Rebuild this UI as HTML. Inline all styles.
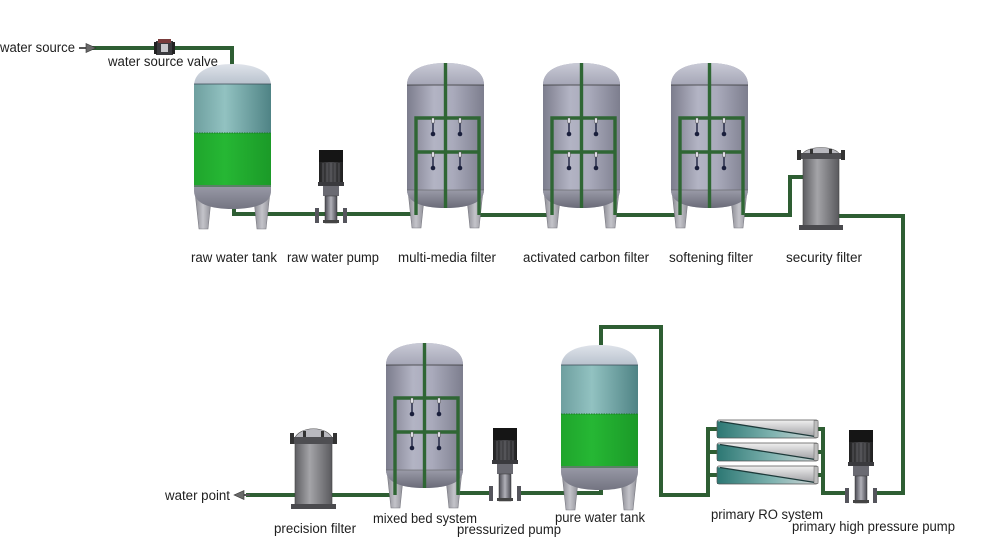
<!DOCTYPE html>
<html><head><meta charset="utf-8"><style>
html,body{margin:0;padding:0;background:#fff;}
svg{display:block;}
text{font-family:"Liberation Sans",Arial,sans-serif;font-size:13.5px;fill:#1e1e1e;}
</style></head><body>
<svg width="983" height="537" viewBox="0 0 983 537" xmlns="http://www.w3.org/2000/svg">
<defs>
<linearGradient id="tankG" x1="0" x2="1" y1="0" y2="0">
<stop offset="0" stop-color="#7c7d8d"/><stop offset="0.35" stop-color="#b3b4c4"/><stop offset="0.6" stop-color="#a9aabb"/><stop offset="1" stop-color="#7d7e8e"/>
</linearGradient>
<linearGradient id="domeG" x1="0" x2="0" y1="0" y2="1">
<stop offset="0" stop-color="#c9cad6"/><stop offset="1" stop-color="#a5a6b6"/>
</linearGradient>
<linearGradient id="botG" x1="0" x2="0" y1="0" y2="1">
<stop offset="0" stop-color="#9a9ba8"/><stop offset="1" stop-color="#6a6b78"/>
</linearGradient>
<linearGradient id="legG" x1="0" x2="1" y1="0" y2="0">
<stop offset="0" stop-color="#8a8a92"/><stop offset="0.5" stop-color="#c4c4ca"/><stop offset="1" stop-color="#8f8f97"/>
</linearGradient>
<linearGradient id="tealG" x1="0" x2="1" y1="0" y2="0">
<stop offset="0" stop-color="#6e9f9f"/><stop offset="0.4" stop-color="#92c2c1"/><stop offset="1" stop-color="#4f8385"/>
</linearGradient>
<linearGradient id="tdomeG" x1="0" x2="0" y1="0" y2="1">
<stop offset="0" stop-color="#dfe3ea"/><stop offset="1" stop-color="#b5bfcb"/>
</linearGradient>
<linearGradient id="greenG" x1="0" x2="1" y1="0" y2="0">
<stop offset="0" stop-color="#1fa52c"/><stop offset="0.4" stop-color="#26b734"/><stop offset="1" stop-color="#1b9a28"/>
</linearGradient>
<linearGradient id="filtG" x1="0" x2="1" y1="0" y2="0">
<stop offset="0" stop-color="#5e5e62"/><stop offset="0.4" stop-color="#a4a4a8"/><stop offset="1" stop-color="#5a5a5e"/>
</linearGradient>
<linearGradient id="stemG" x1="0" x2="1" y1="0" y2="0">
<stop offset="0" stop-color="#4a4a52"/><stop offset="0.5" stop-color="#b0b0b8"/><stop offset="1" stop-color="#4a4a52"/>
</linearGradient>
<linearGradient id="motorG" x1="0" x2="1" y1="0" y2="0">
<stop offset="0" stop-color="#222"/><stop offset="0.5" stop-color="#4a4a4e"/><stop offset="1" stop-color="#1e1e1e"/>
</linearGradient>
<linearGradient id="roG" x1="0" x2="1" y1="0" y2="0">
<stop offset="0" stop-color="#2c7773"/><stop offset="0.55" stop-color="#7fb3b0"/><stop offset="1" stop-color="#d4d6d8"/>
</linearGradient>
<linearGradient id="roGray" x1="0" x2="0" y1="0" y2="1">
<stop offset="0" stop-color="#f0f0f0"/><stop offset="1" stop-color="#9a9a9e"/>
</linearGradient>
<clipPath id="bodyClip"><path d="M0,22 C0,6 18,0 38.5,0 C59,0 77,6 77,22 V127 C77,140 60,145 38.5,145 C17,145 0,140 0,127 Z"/></clipPath>

<g id="legs">
<polygon points="1,128 17,136 14,165 5,165" fill="url(#legG)" stroke="#7a7a82" stroke-width="0.6"/>
<polygon points="60,136 76,128 72,165 63,165" fill="url(#legG)" stroke="#7a7a82" stroke-width="0.6"/>
</g>

<g id="ftank">
<use href="#legs"/>
<path d="M0,22 C0,6 18,0 38.5,0 C59,0 77,6 77,22 V127 C77,140 60,145 38.5,145 C17,145 0,140 0,127 Z" fill="url(#tankG)"/>
<path d="M0,22 C0,6 18,0 38.5,0 C59,0 77,6 77,22 Z" fill="url(#domeG)"/>
<path d="M0,127 C0,140 17,145 38.5,145 C60,145 77,140 77,127 Z" fill="url(#botG)"/>
<line x1="0" y1="22" x2="77" y2="22" stroke="#333" stroke-width="0.8"/>
<line x1="0" y1="127" x2="77" y2="127" stroke="#555" stroke-width="0.6"/>
<g fill="none" stroke="#2f6634" stroke-width="3.4">
<path d="M9,152 V55 H72 V152"/>
<path d="M9,89 H72"/>
<path d="M38.5,0 V145"/>
</g>
<g stroke="#1d2240" stroke-width="1.4">
<line x1="26" y1="57" x2="26" y2="70"/><line x1="53" y1="57" x2="53" y2="70"/>
<line x1="26" y1="91" x2="26" y2="104"/><line x1="53" y1="91" x2="53" y2="104"/>
</g>
<g fill="#e8e8ee" stroke="#555" stroke-width="0.5">
<rect x="24.8" y="55" width="2.4" height="5"/><rect x="51.8" y="55" width="2.4" height="5"/>
<rect x="24.8" y="89" width="2.4" height="5"/><rect x="51.8" y="89" width="2.4" height="5"/>
</g>
<g fill="#1a1f3c">
<circle cx="26" cy="71" r="2.3"/><circle cx="53" cy="71" r="2.3"/>
<circle cx="26" cy="105" r="2.3"/><circle cx="53" cy="105" r="2.3"/>
</g>
</g>

<g id="wtank">
<use href="#legs"/>
<g clip-path="url(#bodyClip)">
<rect x="0" y="0" width="77" height="22" fill="url(#tdomeG)"/>
<rect x="0" y="20" width="77" height="50" fill="url(#tealG)"/>
<rect x="0" y="69" width="77" height="54" fill="url(#greenG)"/>
<rect x="0" y="121" width="77" height="30" fill="url(#botG)"/>
</g>
<line x1="0" y1="20" x2="77" y2="20" stroke="#3a4a55" stroke-width="0.8"/>
<line x1="0" y1="69" x2="77" y2="69" stroke="#1a7a25" stroke-width="1" stroke-dasharray="1.5 1"/>
<line x1="0" y1="122" x2="77" y2="122" stroke="#1a6a22" stroke-width="1"/>
</g>

<g id="pump">
<rect x="-12" y="0" width="24" height="12" fill="#151515"/>
<rect x="-12" y="12" width="24" height="21" fill="url(#motorG)"/>
<g stroke="#6a6a70" stroke-width="0.7">
<line x1="-8" y1="13" x2="-8" y2="32"/><line x1="-4" y1="13" x2="-4" y2="32"/><line x1="0" y1="13" x2="0" y2="32"/><line x1="4" y1="13" x2="4" y2="32"/><line x1="8" y1="13" x2="8" y2="32"/>
</g>
<rect x="-13" y="32" width="26" height="4" fill="#3a3a3e"/>
<rect x="-8" y="36" width="16" height="10" fill="#6a6a72"/>
<rect x="-6" y="46" width="12" height="27" fill="url(#stemG)" stroke="#333" stroke-width="0.5"/>
<rect x="-8" y="70" width="16" height="3" fill="#444"/>
<rect x="-16" y="58" width="4" height="15" fill="#55555c"/>
<rect x="12" y="58" width="4" height="15" fill="#55555c"/>
</g>

<g id="rotube">
<rect x="0" y="0" width="101" height="18" rx="2" fill="url(#roGray)"/>
<polygon points="0,1 101,17 101,18 0,18" fill="url(#roG)"/>
<line x1="3" y1="1.5" x2="98" y2="16.5" stroke="#1d3a3a" stroke-width="1.3"/>
<rect x="0" y="0" width="101" height="18" rx="2" fill="none" stroke="#555" stroke-width="0.7"/>
<rect x="97" y="0.5" width="4" height="17" fill="#bdbdbd" stroke="#666" stroke-width="0.5"/>
</g>
</defs>

<!-- main pipes -->
<g fill="none" stroke="#2e5e33" stroke-width="4" stroke-linejoin="miter">
<path d="M92,48 H232 V68"/>
<path d="M234,205 V214 H418"/>
<path d="M478,215 H553"/>
<path d="M614,215 H681"/>
<path d="M742,215 H790 V177 H805"/>
<path d="M837,216 H903 V493 H873"/>
<path d="M849,493 H823 V429 H817"/>
<path d="M823,452 H817 M823,475 H817"/>
<path d="M719,429 H708 V495 H661 V327 H601 V347"/>
<path d="M719,452 H708 M719,475 H708"/>
<path d="M601,485 V493 H520"/>
<path d="M490,493 H457"/>
<path d="M395,495 H246"/>
</g>

<!-- water source arrow -->
<line x1="79" y1="48" x2="90" y2="48" stroke="#555" stroke-width="2"/>
<polygon points="86,43.5 96,48 86,52.5" fill="#6a6a6a" stroke="#333" stroke-width="0.6"/>
<!-- valve -->
<rect x="156" y="41" width="17" height="14" fill="#3b3b3f"/>
<rect x="158" y="39" width="13" height="4" fill="#7a3c3c"/>
<rect x="161" y="44" width="7" height="8" fill="#c8c8cc"/>
<rect x="154" y="42" width="3" height="12" fill="#222"/>
<rect x="172" y="42" width="3" height="12" fill="#222"/>

<!-- water point arrow -->
<line x1="240" y1="495" x2="250" y2="495" stroke="#555" stroke-width="2"/>
<polygon points="244,490.5 234,495 244,499.5" fill="#6a6a6a" stroke="#333" stroke-width="0.6"/>

<!-- tanks -->
<use href="#wtank" x="194" y="64"/>
<use href="#ftank" x="407" y="63"/>
<use href="#ftank" x="543" y="63"/>
<use href="#ftank" x="671" y="63"/>
<use href="#ftank" x="386" y="343"/>
<use href="#wtank" x="561" y="345"/>

<!-- pumps -->
<use href="#pump" x="331" y="150"/>
<use href="#pump" x="505" y="428"/>
<use href="#pump" x="861" y="430"/>

<!-- RO -->
<use href="#rotube" x="717" y="420"/>
<use href="#rotube" x="717" y="443"/>
<use href="#rotube" x="717" y="466"/>

<!-- security filter -->
<rect x="803" y="157" width="36" height="71" fill="url(#filtG)" stroke="#444" stroke-width="0.6"/>
<rect x="799" y="225" width="44" height="5" fill="#4a4a4e"/>
<path d="M802,155 C806,145 836,145 840,155 Z" fill="#b8b8be" stroke="#555" stroke-width="0.6"/>
<rect x="797" y="153" width="48" height="6" fill="#4e4e52"/>
<g fill="#333"><rect x="797" y="150" width="4" height="10"/><rect x="841" y="150" width="4" height="10"/><rect x="810" y="149" width="3" height="5"/><rect x="829" y="149" width="3" height="5"/></g>

<!-- precision filter -->
<rect x="295" y="442" width="37" height="65" fill="url(#filtG)" stroke="#444" stroke-width="0.6"/>
<rect x="291" y="504" width="45" height="5" fill="#4a4a4e"/>
<path d="M294,440 C298,425 329,425 333,440 Z" fill="#b8b8be" stroke="#555" stroke-width="0.6"/>
<rect x="290" y="437" width="47" height="7" fill="#4e4e52"/>
<g fill="#333"><rect x="290" y="433" width="4" height="11"/><rect x="333" y="433" width="4" height="11"/><rect x="303" y="431" width="3" height="6"/><rect x="321" y="431" width="3" height="6"/></g>

<!-- labels -->
<text x="0" y="52" textLength="75" lengthAdjust="spacingAndGlyphs">water source</text>
<text x="108" y="66" textLength="110" lengthAdjust="spacingAndGlyphs">water source valve</text>
<text x="191" y="262" textLength="86" lengthAdjust="spacingAndGlyphs">raw water tank</text>
<text x="287" y="262" textLength="92" lengthAdjust="spacingAndGlyphs">raw water pump</text>
<text x="398" y="262" textLength="98" lengthAdjust="spacingAndGlyphs">multi-media filter</text>
<text x="523" y="262" textLength="126" lengthAdjust="spacingAndGlyphs">activated carbon filter</text>
<text x="669" y="262" textLength="84" lengthAdjust="spacingAndGlyphs">softening filter</text>
<text x="786" y="262" textLength="76" lengthAdjust="spacingAndGlyphs">security filter</text>
<text x="165" y="500" textLength="65" lengthAdjust="spacingAndGlyphs">water point</text>
<text x="373" y="523" textLength="104" lengthAdjust="spacingAndGlyphs">mixed bed system</text>
<text x="274" y="533" textLength="82" lengthAdjust="spacingAndGlyphs">precision filter</text>
<text x="457" y="534" textLength="104" lengthAdjust="spacingAndGlyphs">pressurized pump</text>
<text x="555" y="522" textLength="90" lengthAdjust="spacingAndGlyphs">pure water tank</text>
<text x="711" y="519" textLength="112" lengthAdjust="spacingAndGlyphs">primary RO system</text>
<text x="792" y="531" textLength="163" lengthAdjust="spacingAndGlyphs">primary high pressure pump</text>
</svg>
</body></html>
